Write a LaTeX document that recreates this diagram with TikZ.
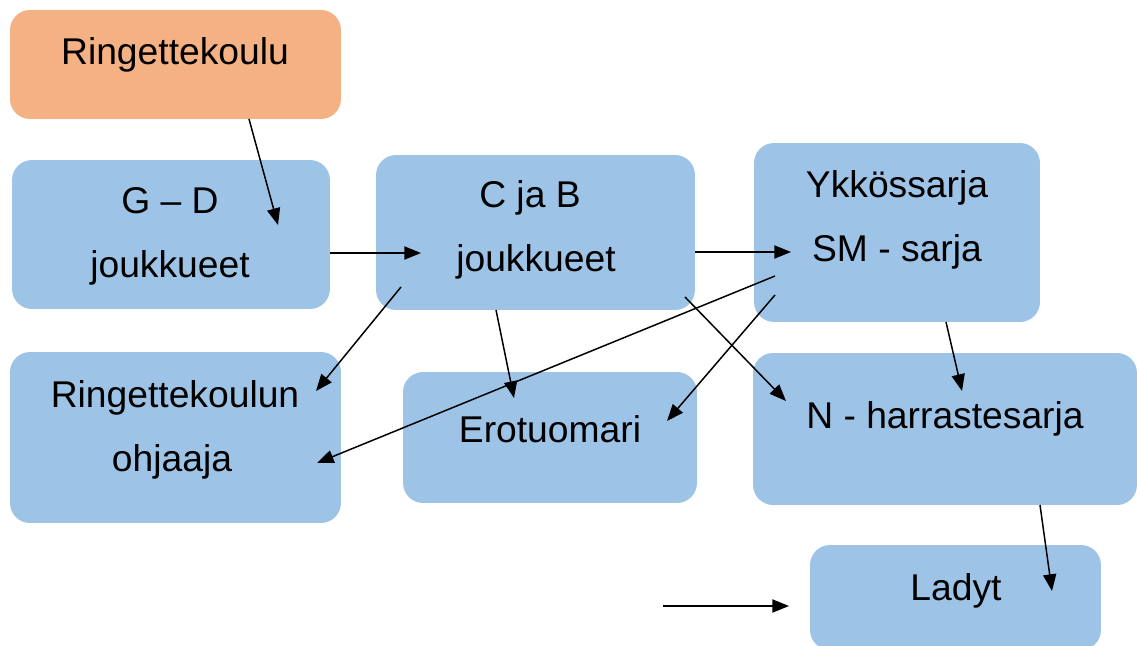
\documentclass[tikz,border=0pt]{standalone}
\usepackage{fontspec}
\setmainfont{Liberation Sans}
\usetikzlibrary{arrows.meta}
\definecolor{boxblue}{HTML}{9DC3E6}
\definecolor{boxorange}{HTML}{F4B183}
\begin{document}
\begin{tikzpicture}[x=0.02cm,y=-0.02cm,
  box/.style={draw=none,rounded corners=0.4cm,inner sep=0pt},
  lbl/.style={font=\fontsize{21.2pt}{25pt}\selectfont,inner sep=0pt,anchor=center},
  conn/.style={line width=0.85pt,-{Triangle[length=9.5pt,width=7.5pt]}}]
\useasboundingbox (0,0) rectangle (1137,646);
\begin{scope}
\clip (0,0) rectangle (1137,646);
\node[box,fill=boxorange,minimum width=6.62cm,minimum height=2.18cm] (rk) at (175.5,64.5) {};
\node[box,fill=boxblue,minimum width=6.36cm,minimum height=2.98cm] (gd) at (171,234.5) {};
\node[box,fill=boxblue,minimum width=6.38cm,minimum height=3.1cm] (cb) at (535.5,232.5) {};
\node[box,fill=boxblue,minimum width=5.72cm,minimum height=3.58cm] (yk) at (897,232.5) {};
\node[box,fill=boxblue,minimum width=6.62cm,minimum height=3.42cm] (ro) at (175.5,437.5) {};
\node[box,fill=boxblue,minimum width=5.88cm,minimum height=2.62cm] (er) at (550,437.5) {};
\node[box,fill=boxblue,minimum width=7.68cm,minimum height=3.04cm] (nh) at (945,429) {};
\node[box,fill=boxblue,minimum width=5.82cm,minimum height=2.1cm] (la) at (955.5,597.5) {};
\end{scope}

\node[lbl] (trk) at (175,55) {Ringettekoulu};
\node[lbl] (tgd1) at (170,201) {G – D};
\node[lbl] (tgd2) at (170,268) {joukkueet};
\node[lbl] (tcb1) at (530,198) {C ja B};
\node[lbl] (tcb2) at (536,262) {joukkueet};
\node[lbl] (tyk1) at (897,188) {Ykkössarja};
\node[lbl] (tyk2) at (897,252) {SM - sarja};
\node[lbl] (tro1) at (175,398) {Ringettekoulun};
\node[lbl] (tro2) at (172,462) {ohjaaja};
\node[lbl] (ter) at (550,429) {Erotuomari};
\node[lbl] (tnh) at (945,419) {N - harrastesarja};
\node[lbl] (tla) at (956,591) {Ladyt};

\coordinate (a1s) at (249,119); \coordinate (a1e) at (278,225);
\coordinate (a2s) at (330,253); \coordinate (a2e) at (421,253);
\coordinate (a3s) at (695,252); \coordinate (a3e) at (791,252);
\coordinate (a4s) at (401,287); \coordinate (a4e) at (316,391);
\coordinate (a5s) at (496,310); \coordinate (a5e) at (514,398);
\coordinate (a6s) at (685,297); \coordinate (a6e) at (786,401);
\coordinate (a7s) at (775,276); \coordinate (a7e) at (317,463);
\coordinate (a8s) at (775,295); \coordinate (a8e) at (667,421);
\coordinate (a9s) at (946,322); \coordinate (a9e) at (962,391);
\coordinate (a10s) at (1040,505); \coordinate (a10e) at (1052,591);
\coordinate (a11s) at (663,606); \coordinate (a11e) at (789,606);

\draw[conn] (a1s) -- (a1e);
\draw[conn] (a2s) -- (a2e);
\draw[conn] (a3s) -- (a3e);
\draw[conn] (a4s) -- (a4e);
\draw[conn] (a5s) -- (a5e);
\draw[conn] (a6s) -- (a6e);
\draw[conn] (a7s) -- (a7e);
\draw[conn] (a8s) -- (a8e);
\draw[conn] (a9s) -- (a9e);
\draw[conn] (a10s) -- (a10e);
\draw[conn] (a11s) -- (a11e);
\end{tikzpicture}
\end{document}
